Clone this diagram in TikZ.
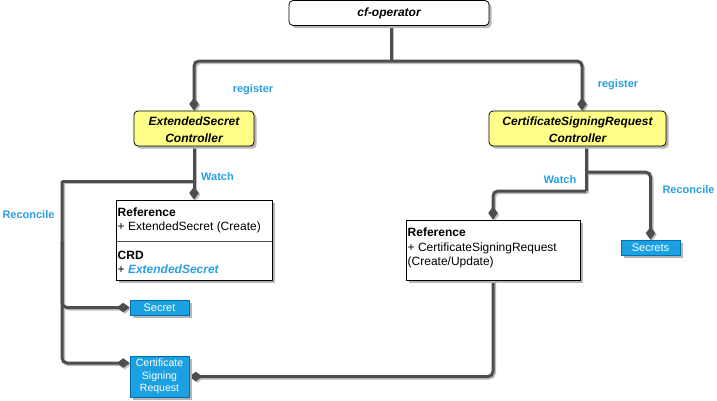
\documentclass[tikz,border=0pt]{standalone}
\usepackage{fontspec}
\setmainfont{Liberation Sans}
\usetikzlibrary{arrows.meta,shadows,calc}
\definecolor{linegray}{HTML}{4D4D4D}
\definecolor{lineshadow}{HTML}{BDBDBD}
\definecolor{boxshadow}{HTML}{B5B5B5}
\definecolor{labelblue}{HTML}{2A9FE0}
\definecolor{boxblue}{HTML}{1BA1E2}
\definecolor{boxblueborder}{HTML}{006EAF}
\definecolor{ctlyellow}{HTML}{FFFF88}
\pgfdeclarelayer{bg}
\pgfsetlayers{bg,main}
\tikzset{
  conn/.style={draw=linegray, line width=3pt, rounded corners=5pt},
  dia/.style={-{Diamond[length=13pt,width=9.5pt]}},
  shadowbox/.style={drop shadow={shadow xshift=2.5pt,shadow yshift=-2.5pt,fill=boxshadow,opacity=1}},
  topbox/.style={draw=black, line width=0.8pt, fill=white, rounded corners=4pt, inner sep=0pt, shadowbox,
    font=\bfseries\itshape\fontsize{12}{17}\selectfont},
  ctlbox/.style={draw=black, line width=0.8pt, fill=ctlyellow, rounded corners=4pt, inner sep=0pt, shadowbox,
    align=center, font=\bfseries\itshape\fontsize{12}{17}\selectfont},
  refbox/.style={draw=black, line width=0.8pt, fill=white, inner sep=0pt, shadowbox},
  resbox/.style={draw=boxblueborder, line width=0.6pt, fill=boxblue, inner sep=0pt, shadowbox,
    text=white, align=center},
  txt/.style={inner sep=0pt, anchor=base west, font=\fontsize{12}{14.5}\selectfont},
  lbl/.style={inner sep=0pt, text=labelblue, font=\bfseries\fontsize{11}{13}\selectfont}
}
\newcommand\drawconns{%
  \draw[conn] (cfj |- cfop.south) -- (cfj);
  \draw[conn,dia] (cfj) -| (esc.north);
  \draw[conn,dia] (cfj) -| ([xshift=4.5pt]csrc.north);
  \draw[conn,dia] (esc.south) -- (ref1.north);
  \draw[conn] (escj) -- (rl);
  \draw[conn,dia] (rl) |- (secret.west);
  \draw[conn,dia] ($(rl)+(0,60)$) |- ($(csr.west)+(0,-13.5)$);
  \draw[conn] (csj |- csrc.south) -- (csb);
  \draw[conn,dia] (csb) -| (ref2.north);
  \draw[conn,dia] (csj) -| (secrets.north);
  \draw[conn,dia] (ref2.south) |- (csr.east);
}
\begin{document}
\begin{tikzpicture}[x=1pt,y=-1pt]
\useasboundingbox (0,0) rectangle (717,400);

% boxes
\node[topbox, minimum width=200pt, minimum height=25pt] (cfop) at (389,13) {cf-operator};
\node[ctlbox, minimum width=120pt, minimum height=35pt] (esc) at (194,128.5)
  {\rule{0pt}{12pt}ExtendedSecret\\Controller};
\node[ctlbox, minimum width=177pt, minimum height=35pt] (csrc) at (577.5,128.5)
  {\rule{0pt}{12pt}CertificateSigningRequest\\Controller};
\node[refbox, minimum width=156pt, minimum height=80pt] (ref1) at (194,240) {};
\node[refbox, minimum width=174pt, minimum height=60pt] (ref2) at (493,250) {};
\node[resbox, minimum width=59pt, minimum height=15pt, font=\fontsize{11}{13}\selectfont] (secret) at (159.5,307.5) {Secret};
\node[resbox, minimum width=59pt, minimum height=15pt, font=\fontsize{11}{13}\selectfont] (secrets) at (650.5,247.5) {Secrets};
\node[resbox, minimum width=59pt, minimum height=41pt, font=\fontsize{10.5}{12.5}\selectfont] (csr) at (159.5,376.5)
  {Certificate\\Signing\\Request};

% divider in ref1
\draw[line width=0.6pt, draw=black!70] (ref1.west |- 0,241) -- (ref1.east |- 0,241);

% texts in reference boxes
\node[txt] (r1a) at (117.5,216) {\bfseries Reference};
\node[txt] (r1b) at (117.5,230.5) {+ ExtendedSecret (Create)};
\node[txt] (r1c) at (117.5,259) {\bfseries CRD};
\node[txt] (r1d) at (117.5,273.5) {+ {\color{labelblue}\bfseries\itshape ExtendedSecret}};
\node[txt] (r2a) at (407.5,236.5) {\bfseries Reference};
\node[txt] (r2b) at (407.5,251) {+ CertificateSigningRequest};
\node[txt] (r2c) at (407.5,265.5) {(Create/Update)};

% junction coordinates
\coordinate (cfj) at (391,61);
\coordinate (escj) at (194,181);
\coordinate (rl) at (62,181);
\coordinate (csj) at (586,172);
\coordinate (csb) at (586,191);

% connectors (shadow first, then line) on the background layer
\begin{pgfonlayer}{bg}
\begin{scope}[transform canvas={shift={(1.5pt,-1.5pt)}},
  conn/.style={draw=lineshadow, line width=3pt, rounded corners=5pt}]
\drawconns
\end{scope}
\drawconns
\end{pgfonlayer}

% labels
\node[lbl] (l1) at (253,90) {register};
\node[lbl] (l2) at (618,85) {register};
\node[lbl] (l3) at (217.5,177) {Watch};
\node[lbl] (l4) at (28.5,215) {Reconcile};
\node[lbl] (l5) at (560,180) {Watch};
\node[lbl] (l6) at (688.5,190) {Reconcile};
\end{tikzpicture}
\end{document}
